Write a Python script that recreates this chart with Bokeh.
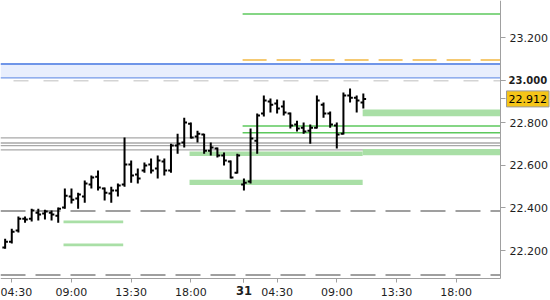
from bokeh.plotting import figure
from bokeh.models import Range1d, FixedTicker, PrintfTickFormatter, Label, LinearAxis
from bokeh.embed import file_html
from bokeh.resources import INLINE

# ---------------- data ----------------
bar_idx = list(range(-1, 54))
bar_open = [22.214, 22.242, 22.294, 22.350, 22.350, 22.378, 22.374, 22.378, 22.364, 22.402,
            22.454, 22.444, 22.454, 22.510, 22.547, 22.491, 22.468, 22.482, 22.510, 22.604,
            22.557, 22.576, 22.604, 22.585, 22.618, 22.576, 22.693, 22.707, 22.796, 22.735,
            22.745, 22.669, 22.679, 22.646, 22.618, 22.566, 22.510, 22.524, 22.716, 22.843,
            22.900, 22.890, 22.876, 22.843, 22.792, 22.777, 22.763, 22.777, 22.885, 22.843,
            22.787, 22.749, 22.928, 22.918, 22.895]
bar_high = [22.256, 22.303, 22.360, 22.360, 22.397, 22.397, 22.392, 22.388, 22.402, 22.491,
            22.491, 22.472, 22.529, 22.552, 22.576, 22.496, 22.500, 22.515, 22.731, 22.623,
            22.585, 22.613, 22.632, 22.646, 22.632, 22.702, 22.749, 22.824, 22.801, 22.763,
            22.749, 22.707, 22.684, 22.660, 22.623, 22.655, 22.538, 22.773, 22.843, 22.928,
            22.914, 22.909, 22.904, 22.848, 22.810, 22.801, 22.792, 22.928, 22.895, 22.853,
            22.801, 22.942, 22.961, 22.928, 22.937]
bar_low = [22.209, 22.233, 22.285, 22.331, 22.336, 22.341, 22.346, 22.341, 22.331, 22.397,
           22.421, 22.397, 22.425, 22.491, 22.482, 22.435, 22.425, 22.454, 22.500, 22.519,
           22.515, 22.566, 22.562, 22.538, 22.552, 22.566, 22.655, 22.684, 22.726, 22.707,
           22.655, 22.646, 22.637, 22.599, 22.538, 22.562, 22.482, 22.515, 22.655, 22.829,
           22.848, 22.843, 22.834, 22.773, 22.759, 22.749, 22.702, 22.773, 22.824, 22.777,
           22.679, 22.745, 22.895, 22.848, 22.867]
bar_close = [22.242, 22.289, 22.350, 22.346, 22.388, 22.369, 22.383, 22.369, 22.397, 22.458,
             22.439, 22.463, 22.515, 22.543, 22.496, 22.472, 22.482, 22.505, 22.604, 22.552,
             22.538, 22.599, 22.576, 22.623, 22.576, 22.693, 22.702, 22.801, 22.731, 22.749,
             22.669, 22.684, 22.646, 22.623, 22.543, 22.646, 22.519, 22.726, 22.834, 22.904,
             22.885, 22.867, 22.848, 22.787, 22.773, 22.759, 22.777, 22.904, 22.843, 22.792,
             22.745, 22.928, 22.918, 22.904, 22.912]
last_price = 22.912

# x ticks (bar index -> label); "31" marks the new day
x_tick_pos = [0, 9, 18, 27, 35, 40, 49, 58, 67]
x_tick_lab = ["04:30", "09:00", "13:30", "18:00", "31", "04:30", "09:00", "13:30", "18:00"]
day_tick = 35
y_ticks = [22.2, 22.4, 22.6, 22.8, 23.0, 23.2]
bold_y_tick = 23.0

# horizontal levels
gray_levels = [22.729, 22.705, 22.693, 22.673]
dark_dashed_levels = [22.386, 22.086]
light_dashed_levels = [22.997]
blue_band = [23.0108, 23.0765]          # bottom, top
day_start = 34.8
green_day_levels = [23.311, 22.785, 22.753]
orange_day_levels = [23.095]
band_x0 = [26.8, 52.9, 26.8, 52.9, 7.8, 7.8]
band_x1 = [52.9, None, 52.9, None, 16.8, 16.8]   # None = to right edge of price area
band_bottom = [22.644, 22.648, 22.508, 22.831, 22.328, 22.220]
band_top = [22.665, 22.677, 22.533, 22.862, 22.341, 22.233]

# ---------------- figure ----------------
# price area: 500 x 278 px; axes are drawn at its right and bottom edges
X_START, X_END = -1.70, 73.68
Y_START, Y_END = 22.069, 23.374
PRICE_W, PRICE_H = 500, 278
FULL_W, FULL_H = 550, 300
X_FULL = X_START + (X_END - X_START) * FULL_W / PRICE_W
Y_FULL = Y_END - (Y_END - Y_START) * FULL_H / PRICE_H

FONT = "DejaVu Sans"
TXT = "#1e1e1e"
AX = "#a0a0a0"

p = figure(width=FULL_W, height=FULL_H,
           x_range=Range1d(X_START, X_FULL), y_range=Range1d(Y_FULL, Y_END),
           output_backend="svg", toolbar_location=None,
           x_axis_location=None, y_axis_location=None,
           min_border_left=0, min_border_top=0, min_border_right=0, min_border_bottom=0,
           outline_line_color=None, background_fill_color="white", border_fill_color="white")
p.grid.visible = False


def style_axis(ax, tick_out, standoff, size="11px"):
    ax.major_tick_line_color = AX
    ax.major_tick_out = tick_out
    ax.major_tick_in = 0
    ax.minor_tick_out = 0
    ax.minor_tick_in = 0
    ax.major_label_standoff = standoff
    ax.major_label_text_font = FONT
    ax.major_label_text_font_size = size
    ax.major_label_text_color = TXT


# x axis at the bottom edge of the price area
xa = LinearAxis(ticker=FixedTicker(ticks=x_tick_pos), bounds=(X_START, X_END), fixed_location=Y_START)
xa.major_label_overrides = {pos: ("" if pos == day_tick else lab) for pos, lab in zip(x_tick_pos, x_tick_lab)}
xa.axis_line_color = AX
style_axis(xa, 4, 3)
p.add_layout(xa, "below")

xb = LinearAxis(ticker=FixedTicker(ticks=[day_tick]), fixed_location=Y_START)
xb.major_label_overrides = {day_tick: x_tick_lab[x_tick_pos.index(day_tick)]}
xb.axis_line_color = None
style_axis(xb, 4, 3, "11.5px")
xb.major_label_text_font_style = "bold"
p.add_layout(xb, "below")

# y axis at the right edge of the price area
ya = LinearAxis(ticker=FixedTicker(ticks=y_ticks + [last_price]), fixed_location=X_END,
                bounds=(Y_START, Y_END), formatter=PrintfTickFormatter(format="%.3f"))
ya.major_label_overrides = {bold_y_tick: "", last_price: ""}
ya.axis_line_color = AX
style_axis(ya, 5, 4)
p.add_layout(ya, "right")

yb = LinearAxis(ticker=FixedTicker(ticks=[bold_y_tick]), fixed_location=X_END,
                formatter=PrintfTickFormatter(format="%.3f"))
yb.axis_line_color = None
style_axis(yb, 5, 3, "10px")
yb.major_label_text_font_style = "bold"
p.add_layout(yb, "right")

# blue band
p.quad(left=X_START, right=X_END, bottom=blue_band[0], top=blue_band[1],
       fill_color="#e8eefd", line_color=None)
p.segment(x0=X_START, x1=X_END, y0=blue_band[1], y1=blue_band[1], line_color="#6f95e8", line_width=2)
p.segment(x0=X_START, x1=X_END, y0=blue_band[0], y1=blue_band[0], line_color="#7398e8", line_width=1.2)

# dashed levels
p.segment(x0=X_START, x1=X_END, y0=light_dashed_levels, y1=light_dashed_levels,
          line_color="#d4d4d4", line_width=1.5, line_dash="15 15", line_dash_offset=17)
p.segment(x0=X_START, x1=X_END, y0=dark_dashed_levels, y1=dark_dashed_levels,
          line_color="#808080", line_width=1.5, line_dash="25 10")

# gray solid levels
p.segment(x0=X_START, x1=X_END, y0=gray_levels, y1=gray_levels,
          line_color="#a8a8a8", line_width=1.3)

# green bands
bx1 = [X_END if v is None else v for v in band_x1]
p.quad(left=band_x0, right=bx1, bottom=band_bottom, top=band_top,
       fill_color="#a9dfa6", line_color=None)

# day levels
p.segment(x0=day_start, x1=X_END, y0=green_day_levels, y1=green_day_levels,
          line_color="#5cc85c", line_width=1.5)
p.segment(x0=day_start, x1=X_END, y0=orange_day_levels, y1=orange_day_levels,
          line_color="#f2b843", line_width=1.5, line_dash="24 10")

# OHLC bars
TICK = 0.42
p.segment(x0=bar_idx, x1=bar_idx, y0=bar_low, y1=bar_high, line_color="black", line_width=2)
p.segment(x0=[i - TICK for i in bar_idx], x1=bar_idx, y0=bar_open, y1=bar_open,
          line_color="black", line_width=2)
p.segment(x0=bar_idx, x1=[i + TICK for i in bar_idx], y0=bar_close, y1=bar_close,
          line_color="black", line_width=2)

# current price box
p.add_layout(Label(x=X_END, y=last_price, x_offset=6, text=f"{last_price:.3f}", text_font=FONT,
                   text_font_size="11px", text_color="black",
                   text_baseline="middle", text_align="left",
                   background_fill_color="#f5c518", border_line_color="#9a9a9a",
                   padding=dict(left=2, right=2, top=4, bottom=4)))

open("out.html", "w").write(file_html(p, INLINE))
